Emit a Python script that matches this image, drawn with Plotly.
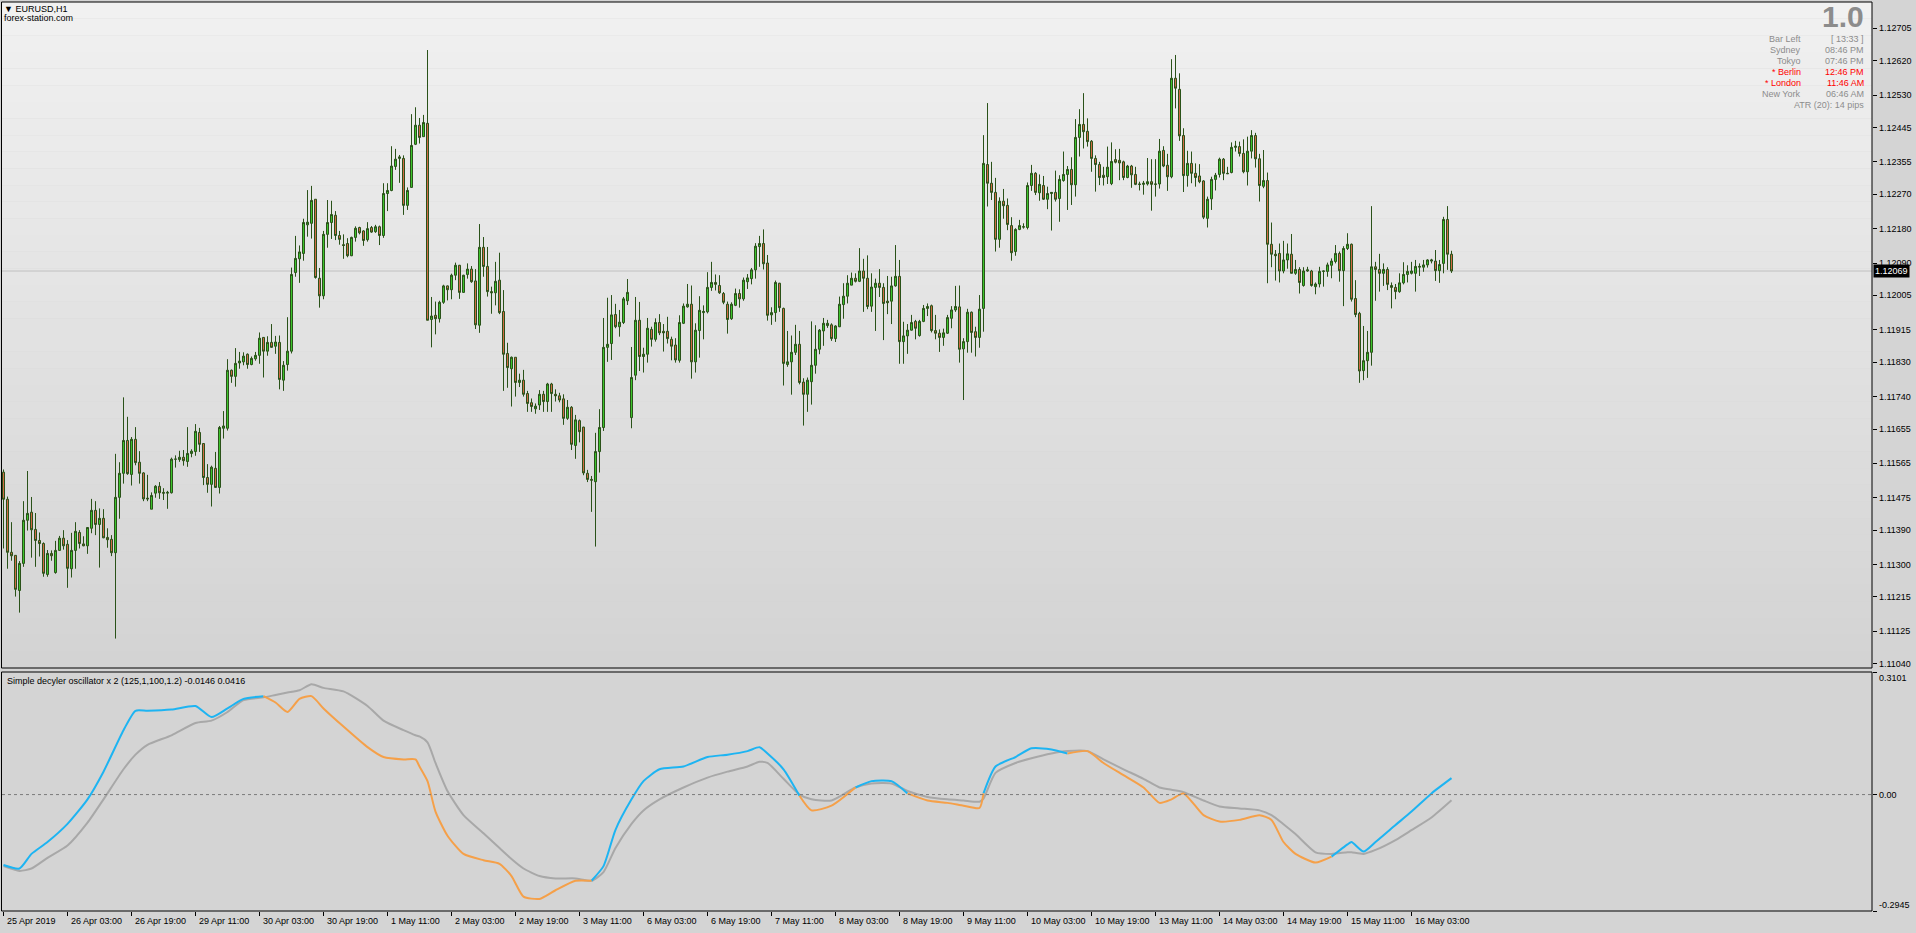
import plotly.graph_objects as go

W, H = 1916, 933

# ------------------------------------------------------------------ data
# EURUSD H1 candles, prices in points (1e-5)
open_pts = [
111542,111471,111332,111324,111232,111303,111416,111437,111392,111363,
111355,111274,111329,111279,111337,111369,111353,111289,111337,111384,
111354,111349,111395,111442,111405,111421,111371,111366,111331,111476,
111539,111625,111536,111628,111568,111540,111474,111445,111487,111505,
111489,111487,111488,111576,111575,111581,111570,111591,111596,111646,
111617,111528,111510,111552,111502,111657,111657,111809,111793,111828,
111831,111851,111824,111839,111848,111895,111859,111882,111872,111882,
111783,111824,111859,112065,112101,112115,112190,112194,112257,112050,
112004,112165,112196,112215,112162,112138,112141,112109,112157,112183,
112174,112151,112183,112172,112185,112162,112272,112280,112343,112364,
112364,112241,112288,112401,112451,112421,112456,111942,111953,111944,
111987,112030,112020,112058,112084,112013,112060,112074,112043,111927,
112131,112081,112015,112012,112045,111963,111853,111813,111843,111777,
111783,111748,111724,111708,111718,111746,111727,111773,111746,111742,
111734,111683,111712,111612,111677,111660,111539,111523,111517,111596,
111659,111869,111879,111955,111923,111934,111991,111685,111796,111940,
111845,111851,111916,111890,111934,111911,111911,111890,111875,111835,
111932,111975,111982,111831,111913,111960,111962,112026,112039,112031,
112010,111982,111944,111979,112010,111996,112041,112049,112072,112133,
112141,112090,111954,111960,112037,111971,111824,111831,111856,111877,
111778,111746,111779,111822,111864,111912,111926,111928,111892,111923,
111981,112003,112032,112050,112042,112069,112050,111977,112026,112037,
112026,111990,111990,112030,112055,111884,111899,111914,111937,111900,
111937,111971,111978,111913,111906,111895,111906,111945,111967,111975,
111865,111884,111961,111910,111895,111971,112348,112299,112275,112152,
112252,112241,112188,112120,112178,112184,112183,112293,112325,112274,
112293,112257,112272,112275,112259,112306,112322,112335,112295,112419,
112453,112435,112409,112364,112348,112320,112316,112298,112361,112359,
112355,112314,112344,112322,112297,112296,112297,112303,112296,112297,
112385,112346,112316,112574,112545,112424,112319,112351,112325,112318,
112305,112207,112258,112309,112322,112362,112325,112327,112393,112395,
112377,112329,112383,112424,112363,112291,112306,112139,112113,112115,
112069,112098,112113,112063,112073,112031,112069,112069,112028,112035,
112068,112068,112084,112094,112115,112070,112128,112139,111997,111958,
111808,111834,111856,112080,112073,112063,112073,112031,112026,112015,
112038,112060,112063,112063,112079,112079,112085,112095,112095,112070,
112089,112204,112113]

high_pts = [
111549,111478,111411,111324,111309,111466,111545,111477,111435,111384,
111358,111338,111337,111362,111375,111390,111364,111383,111411,111390,
111374,111397,111472,111466,111447,111445,111395,111377,111590,111568,
111738,111687,111634,111660,111597,111542,111535,111489,111508,111516,
111500,111493,111580,111586,111598,111600,111660,111602,111668,111658,
111617,111563,111559,111595,111663,111702,111838,111811,111867,111857,
111856,111853,111845,111857,111908,111896,111898,111930,111899,111900,
111833,111948,112078,112161,112136,112206,112281,112292,112257,112077,
112174,112255,112253,112226,112174,112165,112155,112159,112186,112185,
112176,112197,112187,112190,112188,112299,112299,112396,112389,112373,
112372,112288,112480,112498,112470,112478,112648,112001,111989,111991,
112033,112031,112062,112091,112085,112059,112089,112082,112074,112192,
112158,112132,112028,112093,112117,112019,111881,111845,111843,111800,
111810,111755,111735,111722,111757,111755,111776,111776,111759,111750,
111746,111731,111715,111692,111680,111661,111548,111532,111645,111707,
111946,111999,112006,111983,111967,112001,112048,111870,112001,111988,
111868,111946,111923,111945,111956,111930,111949,111897,111893,111953,
111984,112035,112031,111932,112003,111979,112066,112093,112060,112058,
112014,111989,111987,112023,112021,112052,112061,112077,112142,112161,
112178,112111,111974,112044,112038,111973,111912,111900,111928,111912,
111788,111790,111937,111927,111917,111946,111941,111932,111927,112002,
112037,112058,112065,112063,112129,112101,112110,112063,112049,112074,
112037,112056,112054,112137,112098,111936,111930,111954,111941,111941,
111980,111984,111981,111954,111916,111918,111954,111977,112030,112031,
111893,111970,111963,111923,112006,112425,112509,112355,112313,112262,
112284,112259,112210,112181,112203,112194,112301,112347,112328,112322,
112318,112290,112276,112332,112320,112382,112344,112367,112467,112493,
112535,112469,112412,112372,112355,112342,112395,112406,112388,112389,
112358,112347,112347,112342,112303,112305,112365,112362,112362,112415,
112396,112376,112624,112635,112587,112443,112384,112382,112351,112349,
112307,112264,112316,112326,112366,112365,112342,112406,112410,112408,
112414,112421,112438,112431,112376,112386,112327,112196,112124,112141,
112148,112141,112166,112098,112079,112079,112080,112072,112039,112080,
112070,112091,112102,112137,112120,112134,112168,112141,112045,111962,
111925,111912,112239,112093,112114,112089,112079,112039,112035,112063,
112092,112084,112093,112098,112089,112098,112100,112101,112124,112098,
112211,112239,112122]

low_pts = [
111342,111289,111310,111216,111174,111294,111389,111318,111294,111321,
111268,111268,111310,111276,111336,111339,111239,111266,111289,111342,
111348,111328,111382,111377,111292,111369,111344,111322,111106,111420,
111512,111535,111507,111560,111512,111466,111466,111445,111475,111472,
111469,111446,111486,111554,111569,111559,111556,111581,111585,111595,
111508,111488,111452,111501,111486,111630,111651,111776,111766,111813,
111822,111813,111822,111834,111826,111790,111847,111868,111852,111759,
111755,111808,111853,112054,112038,112096,112159,112154,112049,111973,
111995,112130,112153,112150,112138,112101,112105,112108,112146,112165,
112135,112146,112169,112169,112137,112156,112226,112278,112334,112300,
112216,112229,112287,112399,112403,112421,111940,111869,111903,111934,
111983,111992,111995,112045,111996,112012,112049,112038,111917,111907,
112054,112002,111957,111979,111956,111755,111763,111714,111740,111765,
111740,111700,111700,111695,111705,111700,111700,111700,111727,111725,
111666,111679,111600,111577,111620,111534,111516,111438,111347,111541,
111650,111831,111836,111919,111897,111930,111980,111657,111783,111807,
111803,111829,111871,111884,111901,111858,111879,111835,111829,111829,
111930,111973,111787,111803,111842,111890,111958,112017,112018,112009,
111982,111905,111941,111977,111973,111991,112022,112034,112049,112080,
112073,111939,111928,111936,111962,111769,111818,111745,111849,111772,
111664,111700,111719,111800,111851,111873,111920,111886,111883,111922,
111944,111984,112032,112039,112040,111962,111969,111962,111912,112001,
111888,111956,111930,112028,111826,111826,111852,111913,111890,111897,
111935,111951,111908,111890,111857,111873,111904,111919,111962,111829,
111731,111855,111855,111845,111868,111910,112238,112255,112120,112130,
112206,112176,112096,112109,112176,112180,112178,112279,112268,112253,
112255,112231,112175,112251,112198,112303,112229,112242,112264,112369,
112390,112395,112329,112277,112294,112293,112297,112294,112351,112307,
112307,112312,112287,112294,112280,112269,112293,112227,112264,112285,
112341,112279,112312,112495,112410,112276,112290,112299,112290,112299,
112205,112183,112229,112280,112314,112307,112323,112325,112382,112369,
112325,112293,112364,112340,112251,112286,112037,112079,112044,112039,
112063,112075,112063,112059,112010,112028,112067,112028,112008,112026,
112028,112054,112050,112089,112041,111977,112124,111989,111948,111776,
111783,111789,111821,111991,112015,112030,112019,111971,111995,112012,
112034,112039,112060,112015,112056,112067,112078,112089,112043,112038,
112063,112072,112064]

close_pts = [
111471,111332,111323,111235,111303,111416,111434,111391,111363,111355,
111277,111329,111323,111337,111369,111349,111290,111337,111387,111355,
111349,111397,111442,111405,111421,111370,111365,111331,111476,111539,
111625,111538,111628,111567,111539,111472,111472,111481,111505,111488,
111487,111489,111576,111576,111581,111572,111591,111597,111649,111615,
111528,111510,111555,111502,111659,111663,111809,111793,111827,111833,
111846,111824,111840,111848,111893,111859,111882,111869,111883,111785,
111822,111859,112060,112102,112119,112196,112197,112254,112052,112004,
112165,112196,112217,112162,112152,112136,112109,112157,112181,112169,
112149,112180,112171,112185,112162,112272,112280,112344,112362,112368,
112241,112280,112398,112451,112419,112458,111940,111951,111944,111987,
112030,112020,112058,112084,112013,112058,112074,112041,111928,112131,
112081,112015,112012,112042,111960,111851,111816,111843,111777,111783,
111746,111722,111714,111715,111746,111727,111773,111748,111742,111731,
111683,111712,111615,111679,111648,111540,111523,111521,111596,111659,
111869,111877,111954,111923,111935,111996,112013,111790,111940,111845,
111851,111919,111890,111934,111907,111907,111892,111872,111836,111934,
111977,111982,111831,111914,111966,111963,112026,112039,112034,112012,
111987,111942,111982,112010,111996,112045,112051,112072,112134,112141,
112088,111953,111960,112039,111973,111827,111831,111856,111877,111777,
111746,111783,111822,111864,111914,111932,111932,111892,111925,111982,
112003,112037,112050,112042,112069,112050,111976,112027,112037,112026,
111984,111986,112030,112055,111884,111899,111914,111934,111919,111937,
111971,111976,111913,111906,111895,111907,111947,111967,111976,111864,
111884,111961,111908,111895,111969,112351,112299,112275,112152,112252,
112240,112191,112117,112178,112188,112185,112293,112325,112275,112296,
112257,112272,112275,112257,112309,112322,112335,112295,112419,112453,
112434,112408,112364,112348,112314,112314,112341,112356,112354,112352,
112314,112344,112321,112296,112296,112299,112303,112296,112297,112383,
112344,112316,112574,112548,112423,112319,112351,112325,112314,112303,
112210,112257,112309,112320,112362,112325,112324,112393,112396,112377,
112329,112383,112424,112363,112293,112306,112139,112113,112109,112069,
112098,112114,112063,112073,112039,112069,112072,112031,112035,112068,
112069,112085,112095,112115,112070,112128,112139,111995,111955,111807,
111834,111856,112080,112073,112063,112073,112034,112026,112015,112038,
112060,112068,112069,112081,112081,112085,112098,112098,112070,112086,
112204,112113,112069]

price_tick_labels = ["1.12705", "1.12620", "1.12530", "1.12445", "1.12355",
                     "1.12270", "1.12180", "1.12090", "1.12005", "1.11915",
                     "1.11830", "1.11740", "1.11655", "1.11565", "1.11475",
                     "1.11390", "1.11300", "1.11215", "1.11125", "1.11040"]

time_tick_labels = ["25 Apr 2019", "26 Apr 03:00", "26 Apr 19:00", "29 Apr 11:00",
                    "30 Apr 03:00", "30 Apr 19:00", "1 May 11:00", "2 May 03:00",
                    "2 May 19:00", "3 May 11:00", "6 May 03:00", "6 May 19:00",
                    "7 May 11:00", "8 May 03:00", "8 May 19:00", "9 May 11:00",
                    "10 May 03:00", "10 May 19:00", "13 May 11:00", "14 May 03:00",
                    "14 May 19:00", "15 May 11:00", "16 May 03:00"]
BARS_PER_TICK = 16

# Simple decycler oscillator (sampled bars)
osc_bars = [0, 4, 7, 11, 16, 21, 25, 30, 33, 36, 42, 48, 52, 56, 60, 65, 68, 71, 74, 77,
            80, 85, 91, 95, 100, 103, 104, 106, 108, 111, 115, 120, 124, 127, 130, 134,
            138, 143, 147, 150, 153, 157, 160, 164, 170, 176, 181, 186, 189, 191, 195,
            199, 202, 207, 213, 217, 222, 226, 231, 236, 240, 244, 245, 248, 253, 257,
            262, 266, 271, 275, 280, 285, 289, 292, 295, 300, 304, 309, 314, 317, 320,
            323, 328, 332, 336, 337, 340, 343, 348, 352, 357, 362]
osc_fast = [-0.178, -0.187, -0.150, -0.120, -0.074, -0.012, 0.058, 0.163, 0.212, 0.212,
            0.215, 0.224, 0.196, 0.218, 0.242, 0.249, 0.233, 0.209, 0.242, 0.249,
            0.218, 0.172, 0.120, 0.095, 0.089, 0.089, 0.071, 0.034, -0.043, -0.104,
            -0.150, -0.166, -0.175, -0.206, -0.258, -0.264, -0.242, -0.218, -0.218,
            -0.181, -0.089, -0.012, 0.034, 0.064, 0.071, 0.095, 0.101, 0.110, 0.120,
            0.104, 0.064, -0.003, -0.040, -0.028, 0.018, 0.034, 0.034, 0.003, -0.015,
            -0.021, -0.028, -0.034, 0.003, 0.071, 0.095, 0.117, 0.114, 0.104, 0.110,
            0.080, 0.049, 0.018, -0.021, -0.012, 0.003, -0.052, -0.068, -0.064, -0.052,
            -0.064, -0.120, -0.150, -0.172, -0.157, -0.126, -0.120, -0.144, -0.120,
            -0.077, -0.043, 0.003, 0.0416]
osc_slow = [-0.181, -0.193, -0.187, -0.160, -0.129, -0.071, -0.012, 0.064, 0.101, 0.126,
            0.150, 0.181, 0.187, 0.209, 0.239, 0.246, 0.252, 0.258, 0.264, 0.279,
            0.270, 0.261, 0.224, 0.187, 0.163, 0.150, 0.147, 0.132, 0.080, 0.009,
            -0.052, -0.098, -0.135, -0.163, -0.187, -0.206, -0.212, -0.212, -0.218,
            -0.196, -0.135, -0.074, -0.040, -0.012, 0.018, 0.043, 0.058, 0.071, 0.083,
            0.080, 0.040, 0.000, -0.012, -0.015, 0.018, 0.028, 0.028, 0.009, -0.006,
            -0.012, -0.015, -0.018, -0.010, 0.055, 0.080, 0.092, 0.104, 0.110, 0.110,
            0.089, 0.064, 0.040, 0.018, 0.012, 0.006, -0.015, -0.030, -0.035, -0.040,
            -0.052, -0.075, -0.100, -0.146, -0.150, -0.146, -0.146, -0.150, -0.140,
            -0.115, -0.090, -0.058, -0.0146]
OSC_MAX, OSC_MIN = 0.3101, -0.2945

info_labels = ["Bar Left", "Sydney", "Tokyo", "* Berlin", "* London", "New York"]
info_values = ["[ 13:33 ]", "08:46 PM", "07:46 PM", "12:46 PM", "11:46 AM", "06:46 AM"]
info_hot = [False, False, False, True, True, False]

# ------------------------------------------------------------------ style
FONT = "Liberation Sans"
FS = 9
BULL = "#3cc42c"
BEAR = "#d06a44"
WICK = "#2a5219"
GRAYTXT = "#8c8c8c"
PAPER = "#d4d4d4"

def px(x):
    return x / W

def py(y):
    return 1 - y / H

X_L, X_R = 2, 1872
MAIN_T, MAIN_B = 2, 668
OSC_T, OSC_B = 672, 911
PRICE_TOP, PRICE_BOTTOM = 1.127738, 1.110289
BAR0_PX, BAR_STEP = 3.5, 4.0

N = len(close_pts)
xs = list(range(N))
opens = [v / 1e5 for v in open_pts]
highs = [v / 1e5 for v in high_pts]
lows = [v / 1e5 for v in low_pts]
closes = [v / 1e5 for v in close_pts]

fig = go.Figure()

fig.add_trace(go.Candlestick(
    x=xs, open=opens, high=highs, low=lows, close=closes,
    xaxis="x", yaxis="y", whiskerwidth=0, hoverinfo="skip",
    increasing=dict(line=dict(color=WICK, width=1), fillcolor=BULL),
    decreasing=dict(line=dict(color=WICK, width=1), fillcolor=BEAR),
    showlegend=False))

# oscillator lines (slow grey, fast coloured by its position against the slow one)
fig.add_trace(go.Scatter(x=osc_bars, y=osc_slow, mode="lines", xaxis="x2", yaxis="y2",
                         line=dict(color="#a8a8a8", width=2, shape="spline",
                                   smoothing=0.6),
                         hoverinfo="skip", showlegend=False))
runs = []
for k in range(len(osc_bars) - 1):
    up = (osc_fast[k] + osc_fast[k + 1]) >= (osc_slow[k] + osc_slow[k + 1])
    if runs and runs[-1][0] == up:
        runs[-1][1].append(k + 1)
    else:
        runs.append((up, [k, k + 1]))
for want, col in ((True, "#1db4f2"), (False, "#f5a049")):
    rx, ry = [], []
    for up, idx in runs:
        if up != want:
            continue
        rx += [osc_bars[i] for i in idx] + [None]
        ry += [osc_fast[i] for i in idx] + [None]
    fig.add_trace(go.Scatter(x=rx, y=ry, mode="lines", xaxis="x2", yaxis="y2",
                             connectgaps=False,
                             line=dict(color=col, width=2, shape="spline", smoothing=0.6),
                             hoverinfo="skip", showlegend=False))

shapes = []
# main pane gradient background
nb = 40
for i in range(nb):
    y0 = MAIN_T + (MAIN_B - MAIN_T) * i / nb
    y1 = MAIN_T + (MAIN_B - MAIN_T) * (i + 1) / nb
    g = round(241 - (241 - 211) * (i + 0.5) / nb)
    shapes.append(dict(type="rect", xref="paper", yref="paper", layer="below",
                       x0=px(X_L), x1=px(X_R), y0=py(y1), y1=py(y0),
                       line=dict(width=0), fillcolor=f"rgb({g},{g},{g})"))
# bid line
shapes.append(dict(type="line", xref="paper", yref="y", layer="below",
                   x0=px(X_L), x1=px(X_R), y0=closes[-1], y1=closes[-1],
                   line=dict(color="#c0c0c0", width=1)))
# zero line osc
shapes.append(dict(type="line", xref="paper", yref="y2", layer="above",
                   x0=px(X_L), x1=px(X_R), y0=0, y1=0,
                   line=dict(color="#7a7a7a", width=1, dash="dot")))
# pane borders
for (t, b) in ((MAIN_T, MAIN_B), (OSC_T, OSC_B)):
    shapes.append(dict(type="rect", xref="paper", yref="paper", layer="above",
                       x0=px(X_L - 0.5), x1=px(X_R), y0=py(b), y1=py(t),
                       line=dict(color="black", width=1), fillcolor="rgba(0,0,0,0)"))

ann = []
def text(x, y, s, color="black", size=FS, anchor="left", xref="paper", yref="paper",
         **kw):
    ann.append(dict(xref=xref, yref=yref, x=x, y=y, xanchor=anchor, yanchor="middle",
                    showarrow=False, text=s,
                    font=dict(family=FONT, size=size, color=color), **kw))

text(px(2), py(9), "<span style='font-size:9px'>▼</span> EURUSD,H1")
text(px(2), py(18), "forex-station.com")
text(px(1866), py(17), "<b>1.0</b>", color=GRAYTXT, size=30, anchor="right")
row_y = [39, 50, 61, 72, 83, 94]
for lab, val, hot, yy in zip(info_labels, info_values, info_hot, row_y):
    col = "#ff0000" if hot else GRAYTXT
    text(px(1803), py(yy), lab, color=col, anchor="right")
    text(px(1866), py(yy), val, color=col, anchor="right")
text(px(1866), py(105), "ATR (20): 14 pips", color=GRAYTXT, anchor="right")

# price scale labels
for lab in price_tick_labels:
    text(px(X_R + 5), float(lab), lab, yref="y")
# bid price box
text(px(X_R + 1), closes[-1], f"{closes[-1]:.5f}", color="white", yref="y",
     bgcolor="black", borderpad=1)
# time scale labels
for k, lab in enumerate(time_tick_labels):
    text(k * BARS_PER_TICK, py(921), lab, xref="x2", xshift=1)
# oscillator label and scale
text(px(5), py(681),
     f"Simple decyler oscillator x 2 (125,1,100,1.2) {osc_slow[-1]:.4f} {osc_fast[-1]:.4f}")
text(px(X_R + 5), py(OSC_T + 6), f"{OSC_MAX:.4f}")
text(px(X_R + 5), 0, "0.00", yref="y2")
text(px(X_R + 5), py(OSC_B - 6), f"{OSC_MIN:.4f}")

xr = [(X_L - BAR0_PX) / BAR_STEP, (X_R - BAR0_PX) / BAR_STEP]

fig.update_layout(
    width=W, height=H, margin=dict(l=0, r=0, t=0, b=0),
    paper_bgcolor=PAPER, plot_bgcolor="rgba(0,0,0,0)",
    showlegend=False, hovermode=False, boxgap=0.5, boxgroupgap=0,
    xaxis=dict(domain=[px(X_L), px(X_R)], range=xr, anchor="y", showticklabels=False,
               showgrid=False, zeroline=False, showline=False, ticks="",
               rangeslider=dict(visible=False), fixedrange=True),
    yaxis=dict(domain=[py(MAIN_B), py(MAIN_T)], range=[PRICE_BOTTOM, PRICE_TOP],
               anchor="x", side="right", showgrid=False, zeroline=False,
               tickvals=[float(t) for t in price_tick_labels], showticklabels=False,
               ticks="outside", ticklen=4, tickcolor="black",
               showline=False, fixedrange=True),
    xaxis2=dict(domain=[px(X_L), px(X_R)], range=xr, anchor="y2", matches="x",
                tickvals=[k * BARS_PER_TICK for k in range(len(time_tick_labels))],
                showticklabels=False, ticks="outside", ticklen=4, tickcolor="black",
                showgrid=False, zeroline=False, showline=False, fixedrange=True),
    yaxis2=dict(domain=[py(OSC_B), py(OSC_T)], range=[OSC_MIN, OSC_MAX], anchor="x2",
                side="right", showgrid=False, zeroline=False,
                tickvals=[OSC_MIN, 0, OSC_MAX], showticklabels=False,
                ticks="outside", ticklen=4, tickcolor="black", fixedrange=True),
    shapes=shapes, annotations=ann,
)

fig.write_html("out.html", config={"displayModeBar": False},
               post_script="document.body.style.margin='0px';"
                           "document.body.style.overflow='hidden';")
